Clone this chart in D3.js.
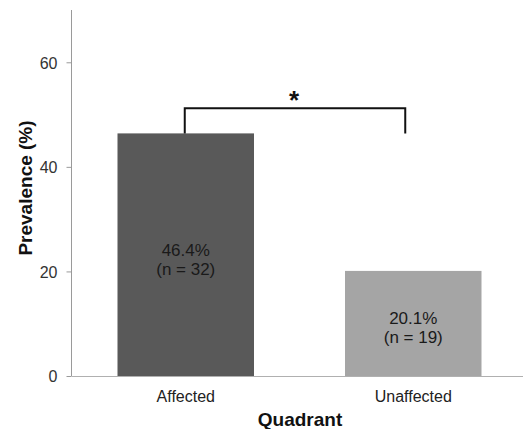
<!DOCTYPE html>
<html><head><meta charset="utf-8">
<script src="https://cdn.jsdelivr.net/npm/d3@7"></script>
<style>
html,body{margin:0;padding:0;background:#fff;}
svg text{font-family:"Liberation Sans",Arial,sans-serif;}
</style></head>
<body>
<svg id="chart" width="523" height="429"></svg>
<script>
const categories = ["Affected", "Unaffected"];
const values = [46.4, 20.1];
const counts = [32, 19];
const barColors = ["#595959", "#a5a5a5"];
const yTicks = [0, 20, 40, 60];
const bracketValue = 51.2;
const bracketEndValues = [46.4, 46.4];

const svg = d3.select("#chart");
const x = d3.scaleBand().domain(categories).range([72, 527]).paddingInner(0.4).paddingOuter(0.2);
const y = d3.scaleLinear().domain([0, 70]).range([376, 10]);

// y axis
const yAxis = svg.append("g").attr("transform", "translate(71.5,0)")
  .call(d3.axisLeft(y).tickValues(yTicks).tickSize(5).tickPadding(9));
yAxis.select(".domain").attr("stroke", "#9a9a9a").attr("d", `M0,${y(70)}V${y(0)}`);
yAxis.selectAll(".tick line").attr("stroke", "#9a9a9a");
yAxis.selectAll(".tick text").attr("font-size", 16).attr("fill", "#333").attr("dy", "0.36em");

// bars
svg.append("g").selectAll("rect").data(categories).join("rect")
  .attr("x", d => x(d))
  .attr("y", (d, i) => y(values[i]))
  .attr("width", x.bandwidth())
  .attr("height", (d, i) => y(0) - y(values[i]))
  .attr("fill", (d, i) => barColors[i]);

// x axis
const xAxis = svg.append("g").attr("transform", `translate(0,${y(0) + 0.5})`)
  .call(d3.axisBottom(x).tickSize(0).tickPadding(14));
xAxis.select(".domain").attr("stroke", "#b0b0b0").attr("d", "M71.5,0H523");
xAxis.selectAll(".tick text").attr("font-size", 16).attr("fill", "#222");

// bar labels
categories.forEach((c, i) => {
  const cx = x(c) + x.bandwidth() / 2;
  const mid = y(values[i] / 2);
  const t = svg.append("text").attr("text-anchor", "middle").attr("font-size", 17).attr("fill", "#1a1a1a");
  t.append("tspan").attr("x", cx).attr("y", mid + 1).text(values[i].toFixed(1) + "%");
  t.append("tspan").attr("x", cx).attr("y", mid + 20).text(`(n = ${counts[i]})`);
});

// significance bracket
const x1 = x(categories[0]) + x.bandwidth() / 2 - 1;
const x2 = x(categories[1]) + x.bandwidth() / 2 - 8;
svg.append("path")
  .attr("d", `M${x1},${y(bracketEndValues[0])}V${y(bracketValue)}H${x2}V${y(bracketEndValues[1])}`)
  .attr("fill", "none").attr("stroke", "#111").attr("stroke-width", 2);
svg.append("text").attr("x", (x1 + x2) / 2 - 1).attr("y", 109)
  .attr("text-anchor", "middle").attr("font-size", 26).attr("font-weight", "bold").attr("fill", "#111").text("*");

// axis titles
svg.append("text").attr("transform", "translate(32,188) rotate(-90)")
  .attr("text-anchor", "middle").attr("font-size", 19).attr("font-weight", "bold").attr("fill", "#111")
  .text("Prevalence (%)");
svg.append("text").attr("x", 300).attr("y", 426)
  .attr("text-anchor", "middle").attr("font-size", 19).attr("font-weight", "bold").attr("fill", "#111")
  .text("Quadrant");
</script>
</body></html>
